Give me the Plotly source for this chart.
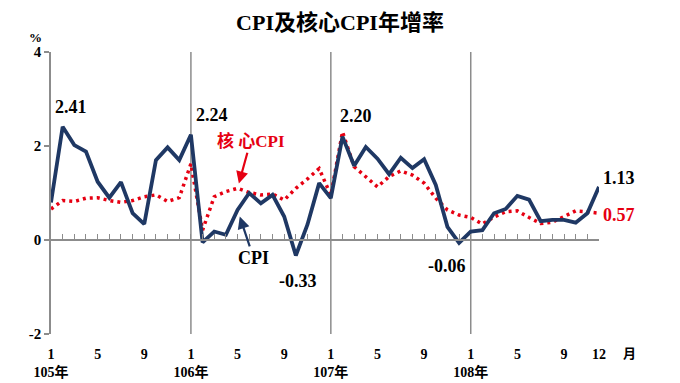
import plotly.graph_objects as go

# ---- data ----
years = ["105", "106", "107", "108"]
label_months = [1, 5, 9]
last_month = 12
y_ticks = [-2, 0, 2, 4]
y_ticktext = ["-2", "0", "2", "4"]
cpi = [0.80, 2.41, 2.02, 1.88, 1.24, 0.90, 1.23, 0.57, 0.34, 1.70, 1.97, 1.70,
       2.24, -0.05, 0.18, 0.11, 0.64, 1.00, 0.78, 0.96, 0.50, -0.33, 0.33, 1.21,
       0.89, 2.20, 1.58, 1.98, 1.73, 1.40, 1.75, 1.53, 1.72, 1.17, 0.28, -0.06,
       0.18, 0.21, 0.57, 0.66, 0.94, 0.86, 0.40, 0.43, 0.43, 0.37, 0.57, 1.13]
core = [0.66, 0.84, 0.82, 0.89, 0.90, 0.84, 0.80, 0.84, 0.92, 0.96, 0.82, 0.90,
        1.62, 0.21, 0.92, 1.03, 1.10, 1.01, 0.96, 0.98, 0.85, 1.10, 1.30, 1.52,
        0.95, 2.30, 1.56, 1.35, 1.13, 1.35, 1.47, 1.38, 1.21, 0.89, 0.64, 0.53,
        0.48, 0.34, 0.49, 0.60, 0.62, 0.48, 0.35, 0.38, 0.49, 0.62, 0.60, 0.57]
# labelled points: (index, text, series)
value_labels = [(1, "2.41", "cpi"), (12, "2.24", "cpi"), (21, "-0.33", "cpi"),
                (25, "2.20", "cpi"), (35, "-0.06", "cpi"), (47, "1.13", "cpi"),
                (47, "0.57", "core")]

NAVY = "#1F3864"
RED = "#E60012"
GRAY = "#8C8C8C"
FONT = "Liberation Serif, Noto Sans CJK TC, serif"

n = len(cpi)
x = list(range(n))

tickvals, ticktext = [], []
for i, yr in enumerate(years):
    for m in label_months:
        tickvals.append(i * 12 + m - 1)
        ticktext.append(f"{m}<br>{yr}年" if m == 1 else str(m))
tickvals.append(n - 1)
ticktext.append(str(last_month))

fig = go.Figure()
fig.add_trace(go.Scatter(x=x, y=core, mode="lines", name="核心CPI",
                         line=dict(color=RED, width=3.5, dash="3px,4px"),
                         hoverinfo="skip"))
fig.add_trace(go.Scatter(x=x, y=cpi, mode="lines", name="CPI",
                         line=dict(color=NAVY, width=3.8), hoverinfo="skip"))
# invisible trace to materialise the zero-line axis with month ticks
fig.add_trace(go.Scatter(x=[0], y=[0], xaxis="x2", mode="lines",
                         opacity=0, hoverinfo="skip", showlegend=False))

# year separators
for i in range(1, len(years)):
    fig.add_shape(type="line", xref="x", yref="paper", x0=i * 12, x1=i * 12,
                  y0=0, y1=1, line=dict(color=GRAY, width=1.5), layer="below")

annos = []
offsets = {"2.41": (8, 20), "2.24": (21, 20), "-0.33": (2, -25), "2.20": (14, 21),
           "-0.06": (-12, -23), "1.13": (20, 9), "0.57": (20, -2)}
for idx, txt, ser in value_labels:
    yv = cpi[idx] if ser == "cpi" else core[idx]
    dx, dy = offsets[txt]
    annos.append(dict(x=idx, y=yv, text=txt, showarrow=False, xshift=dx, yshift=dy,
                      font=dict(family=FONT, size=18, weight="bold",
                                color="black" if ser == "cpi" else RED)))

# callouts
annos.append(dict(x=16, y=core[16], text="核 心CPI", showarrow=True, ax=13, ay=-47,
                  arrowhead=2, arrowsize=1.1, arrowwidth=2.2, arrowcolor=RED, standoff=5,
                  font=dict(family=FONT, size=17, weight="bold", color=RED)))
annos.append(dict(x=16, y=cpi[16], text="CPI", showarrow=True, ax=16, ay=48,
                  arrowhead=2, arrowsize=1.1, arrowwidth=2.2, arrowcolor=NAVY, standoff=7,
                  font=dict(family=FONT, size=18, weight="bold", color="black")))
# unit labels
annos.append(dict(xref="paper", yref="y", x=0, y=4, text="%", showarrow=False,
                  xanchor="center", xshift=-16, yshift=15,
                  font=dict(family=FONT, size=13, weight="bold", color="black")))
annos.append(dict(xref="x", yref="paper", x=n - 1, y=0, text="月", showarrow=False,
                  xshift=30, yshift=-19, yanchor="middle",
                  font=dict(family=FONT, size=13, weight="bold", color="black")))

fig.update_layout(
    width=680, height=383,
    margin=dict(l=51, r=81, t=52, b=49, autoexpand=False),
    paper_bgcolor="white", plot_bgcolor="white",
    showlegend=False,
    title=dict(text="CPI及核心CPI年增率", x=0.5, xanchor="center", y=0.943, yanchor="middle",
               font=dict(family=FONT, size=22, weight="bold", color="black")),
    xaxis=dict(range=[0, n - 1], showgrid=False, zeroline=False, showline=False,
               automargin=False,
               tickmode="array", tickvals=tickvals, ticktext=ticktext, ticks="",
               ticklabelstandoff=10,
               tickfont=dict(family=FONT, size=14, weight="bold", color="black")),
    xaxis2=dict(overlaying="x", matches="x", anchor="free", position=1 / 3,
                automargin=False,
                showgrid=False, zeroline=False, showline=True, linecolor=GRAY, linewidth=1.5,
                ticks="inside", ticklen=5, tickwidth=1.2, tickcolor=GRAY,
                tickmode="linear", tick0=0, dtick=1, showticklabels=False),
    yaxis=dict(range=[-2, 4], tickmode="array", tickvals=y_ticks, ticktext=y_ticktext,
               automargin=False,
               showgrid=False, zeroline=False,
               showline=True, linecolor=GRAY, linewidth=1.5,
               ticks="outside", ticklen=5, tickcolor=GRAY, tickwidth=1.5,
               tickfont=dict(family=FONT, size=15, weight="bold", color="black")),
    annotations=annos,
)

fig.write_html("out.html", config={"displayModeBar": False},
               post_script="document.body.style.margin='0';document.body.style.padding='0';")
